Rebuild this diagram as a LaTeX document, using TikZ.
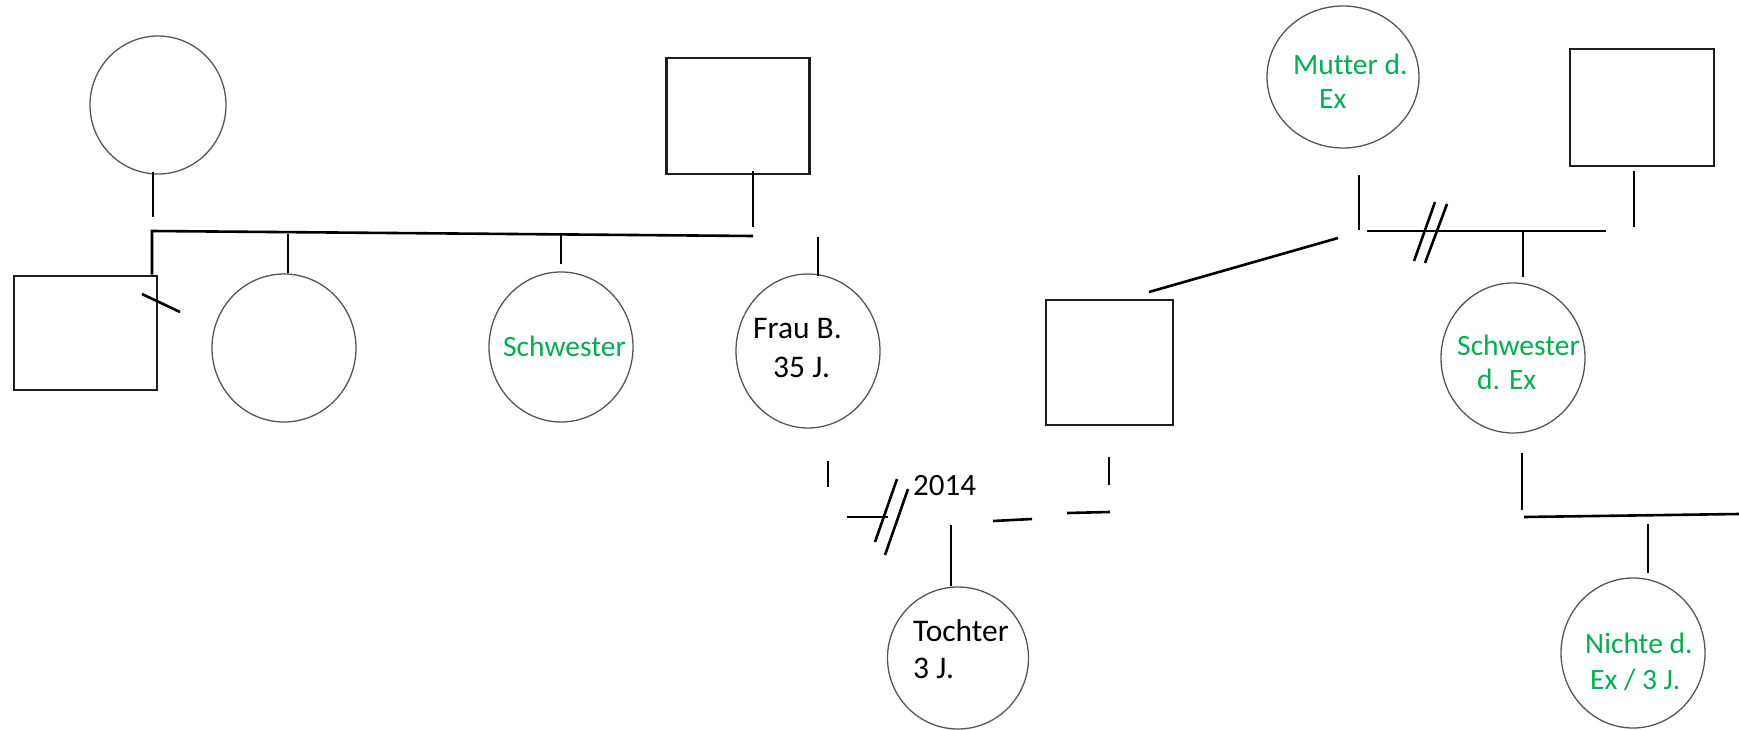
\documentclass[tikz,border=0pt]{standalone}
\usepackage{fontspec}
\setmainfont{Carlito}[Ligatures=NoCommon]
\usetikzlibrary{shapes.geometric}
\definecolor{lbl}{RGB}{0,176,80}
\definecolor{ring}{RGB}{85,85,85}
\tikzset{
  person/.style={draw=ring, line width=1.3pt, ellipse, inner sep=0pt},
  male/.style={draw=black!88, line width=2.8pt, rectangle, inner sep=0pt},
  link/.style={draw=black, line width=2.6pt},
  txt/.style={anchor=base west, inner sep=0pt, font=\fontsize{31.5}{37}\selectfont},
  gtxt/.style={txt, text=lbl, font=\fontsize{29.5}{35}\selectfont}
}
\begin{document}
\begin{tikzpicture}[x=1pt,y=-1pt]
\useasboundingbox (0,0) rectangle (1739,730);
% persons
\node[person, minimum width=136pt, minimum height=138pt] (gm) at (158,105) {};
\node[male, minimum width=143pt, minimum height=116pt] (gf) at (738,116) {};
\node[male, minimum width=143pt, minimum height=114pt] (br) at (85.5,333) {};
\node[person, minimum width=144pt, minimum height=148pt] (s1) at (284,348) {};
\node[person, minimum width=144pt, minimum height=150pt] (s2) at (561,347) {};
\node[person, minimum width=144pt, minimum height=154pt] (fb) at (808,351) {};
\node[male, minimum width=127pt, minimum height=125pt] (ex) at (1109.5,362.5) {};
\node[person, minimum width=141pt, minimum height=142pt] (to) at (958,658) {};
\node[person, minimum width=152pt, minimum height=142pt] (mu) at (1343,77) {};
\node[male, minimum width=144pt, minimum height=117pt] (va) at (1642,107.5) {};
\node[person, minimum width=144pt, minimum height=150pt] (se) at (1513,358) {};
\node[person, minimum width=144pt, minimum height=150pt] (ni) at (1633,653) {};
% texts
\node[gtxt] (t1) at (503,356) {Schwester};
\node[txt] (t2) at (753,338) {Frau B.};
\node[txt] (t3) at (773,377) {35 J.};
\node[txt] (t4) at (913,641) {Tochter};
\node[txt] (t5) at (913,678) {3 J.};
\node[gtxt] (t6) at (1293,75) {Mutter d.};
\node[gtxt] (t7) at (1319,109) {Ex};
\node[gtxt] (t8) at (1457,355) {Schwester};
\node[gtxt] (t9) at (1477,389) {d. Ex};
\node[gtxt] (t10) at (1585,653) {Nichte d.};
\node[gtxt] (t11) at (1590,689) {Ex / 3 J.};
\node[txt, font=\fontsize{31}{36}\selectfont] (yr) at (913,495) {2014};
% left family
\coordinate (a1) at (153,172); \coordinate (a2) at (153,217);
\draw[link] (a1) -- (a2);
\coordinate (b0) at (152,231); \coordinate (b1) at (753,236);
\draw[link] (br.north -| b0) -- (b0) -- (b1);
\coordinate (f1) at (753,171); \coordinate (f2) at (753,227);
\draw[link] (f1) -- (f2);
\draw[link] (288,234) -- (s1.north -| 288,0);
\draw[link] (561,235) -- (561,264);
\draw[link] (818,237) -- (818,276);
\draw[link] (142,294) -- (180,312);
% marriage Frau B. / Ex
\draw[link] (828,461) -- (828,487);
\draw[link] (847,517) -- (888,517);
\draw[link] (897,479) -- (875,542);
\draw[link] (908,489) -- (885,555);
\draw[link] (951,525) -- (to.north -| 951,0);
\draw[link] (993,521) -- (1032,519);
\draw[link] (1067,513) -- (1110,512);
\draw[link] (1109,457) -- (1109,485);
% Ex family
\draw[link] (1149,292) -- (1338,238);
\draw[link] (1359,175) -- (1359,230);
\draw[link] (1367,231) -- (1606,231);
\draw[link] (1435,202) -- (1414,261);
\draw[link] (1447,204) -- (1425,263);
\draw[link] (1523,231) -- (1523,277);
\draw[link] (1634,171) -- (1634,227);
\draw[link] (1522,453) -- (1522,510);
\draw[link] (1524,517) -- (1739,514);
\draw[link] (1648,524) -- (1648,573);
\end{tikzpicture}
\end{document}
